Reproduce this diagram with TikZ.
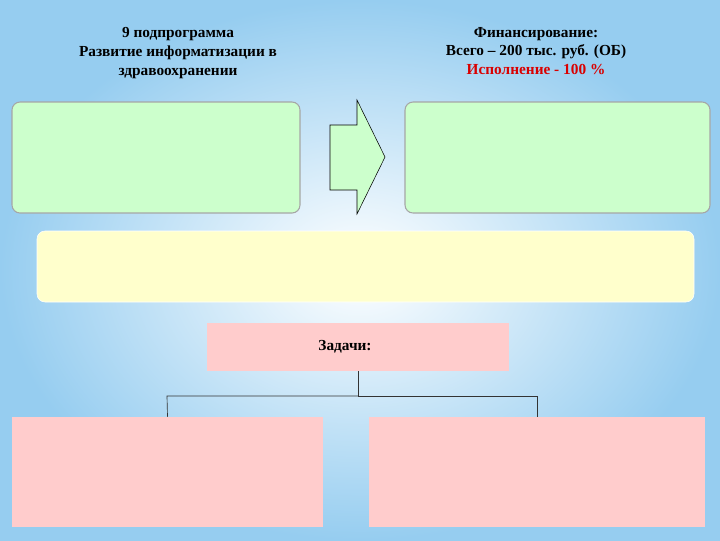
\documentclass[tikz,border=0pt]{standalone}
\usepackage{fontspec}
\setmainfont{Liberation Serif}
\begin{document}
\begin{tikzpicture}[x=0.75pt,y=-0.75pt,
  lbl/.style={font=\bfseries\fontsize{11.5}{14}\selectfont,align=center},
  greenbox/.style={draw=gray!70,fill={rgb,255:red,204;green,255;blue,204},rounded corners=6pt,line width=0.8pt},
  pinkbox/.style={fill={rgb,255:red,255;green,204;blue,204},draw=none},
  conn/.style={draw=black!80,line width=0.5pt}]
\useasboundingbox (0,0) rectangle (720,540);
\shade[inner color=white,outer color={rgb,255:red,150;green,205;blue,240}] (0,0) rectangle (720,540);
\node[lbl] (t1) at (178,53) {9 подпрограмма\\Развитие информатизации в\\здравоохранении};
\node[lbl] (t2) at (536,51) {Финансирование:\\Всего – 200 тыс. руб. (ОБ)\\\textcolor{red!85!black}{Исполнение - 100 \%}};
\path[greenbox] (12,102) rectangle (300,213);
\path[greenbox] (405,102) rectangle (710,213);
\draw[fill={rgb,255:red,204;green,255;blue,204},draw=black] (330,125) -- (357,125) -- (357,100) -- (385,157) -- (357,214) -- (357,190) -- (330,190) -- cycle;
\path[fill={rgb,255:red,255;green,255;blue,204},draw=white,rounded corners=6pt] (37,231) rectangle (694,302);
\node[pinkbox,minimum width=302*0.75pt,minimum height=48*0.75pt] (z) at (358,347) {};
\node[font=\bfseries\fontsize{11.5}{14}\selectfont] (zt) at (345,347) {Задачи:};
\node[pinkbox,minimum width=311*0.75pt,minimum height=110*0.75pt] (b1) at (167.5,472) {};
\node[pinkbox,minimum width=336*0.75pt,minimum height=110*0.75pt] (b2) at (537,472) {};
\coordinate (j) at (358,396);
\draw[conn] (z.south) -- (j);
\draw[conn] (j) -- (167,396) -- (b1.north);
\draw[conn] (j) -- (537,396) -- (b2.north);
\end{tikzpicture}
\end{document}
